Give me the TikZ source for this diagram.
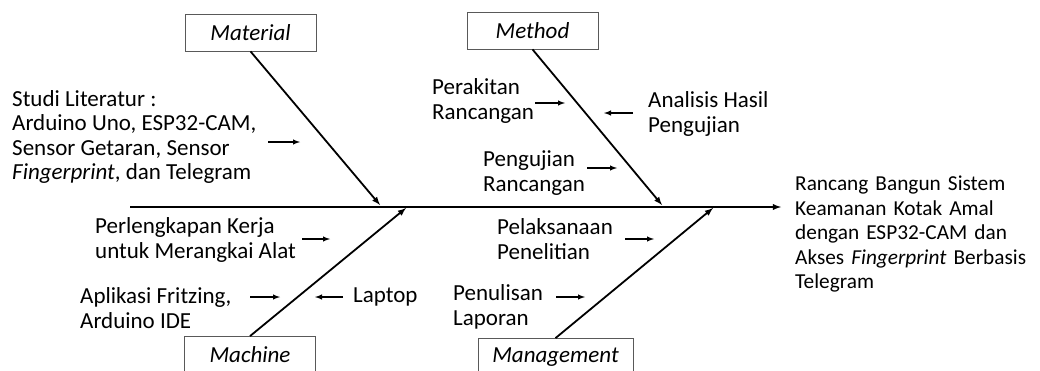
\documentclass[tikz,border=0pt]{standalone}
\usepackage{fontspec}
\setmainfont{Carlito}
\usetikzlibrary{positioning}

\newcommand{\fishfont}{\fontsize{23}{24.5}\selectfont}
\tikzset{
  catbox/.style={draw=black!65, line width=0.8pt, minimum width=131pt, minimum height=37pt, inner sep=0pt, font=\fishfont\itshape},
  cause/.style={align=left, inner sep=0pt, anchor=west, font=\fishfont},
  bone/.style={line width=1.8pt, -latex},
  tick/.style={line width=1.4pt, -latex},
}

\begin{document}
\begin{tikzpicture}[x=1pt,y=-1pt]
    \useasboundingbox (0,0) rectangle (1040,370);
    % spine
    \coordinate (tail) at (130,207);
    \coordinate (head) at (781,207);
    \draw[bone] (tail) -- (head);
    \node[cause, text width=242pt, font=\fontsize{21.3}{24.5}\selectfont] (effect) at (795,234) {%
      \makebox[242pt][s]{Rancang Bangun Sistem}\\
      \makebox[242pt][s]{Keamanan Kotak Amal}\\
      \makebox[242pt][s]{dengan ESP32-CAM dan}\\
      \makebox[242pt][s]{Akses \textit{Fingerprint} Berbasis}\\
      Telegram};

    % categories
    \node[catbox] (mat)  at (250.5,32.5) {Material};
    \node[catbox] (meth) at (532.5,30.5) {Method};
    \node[catbox] (mach) at (250,355) {Machine};
    \node[catbox, minimum width=155pt] (mgmt) at (555.5,357) {Management};
    \coordinate (matj)  at (380,205);
    \coordinate (methj) at (662,205);
    \coordinate (machj) at (406,208);
    \coordinate (mgmtj) at (713,208);
    \draw[bone] (mat.south) -- (matj);
    \draw[bone] (meth.south) -- (methj);
    \draw[bone] (mach.north) -- (machj);
    \draw[bone] (mgmt.north) -- (mgmtj);

    % causes
    \node[cause] (studi) at (12,137) {Studi Literatur :\\Arduino Uno, ESP32-CAM,\\Sensor Getaran, Sensor\\\textit{Fingerprint}, dan Telegram};
    \node[cause] (rakit) at (432,101) {Perakitan\\Rancangan};
    \node[cause] (analisis) at (648,114) {Analisis Hasil\\Pengujian};
    \node[cause] (uji) at (483,173) {Pengujian\\Rancangan};
    \node[cause] (lengkap) at (95,240) {Perlengkapan Kerja\\untuk Merangkai Alat};
    \node[cause] (apk) at (80,308) {Aplikasi Fritzing,\\Arduino IDE};
    \node[cause] (laptop) at (353,297) {Laptop};
    \node[cause] (laksana) at (497,239) {Pelaksanaan\\Penelitian};
    \node[cause] (tulis) at (453,307) {Penulisan\\Laporan};

    \coordinate (studit) at (300,142);
    \coordinate (rakitt) at (565,103);
    \coordinate (analisist) at (604,113);
    \coordinate (ujit) at (617,168);
    \coordinate (lengkapt) at (330,239);
    \coordinate (apkt) at (280,297);
    \coordinate (laptopt) at (315,297);
    \coordinate (laksanat) at (654,239);
    \coordinate (tulist) at (585,297);
    \draw[tick] (studit) ++(-32,0) -- (studit);
    \draw[tick] (rakitt) ++(-30,0) -- (rakitt);
    \draw[tick] (analisist) ++(29,0) -- (analisist);
    \draw[tick] (ujit) ++(-30,0) -- (ujit);
    \draw[tick] (lengkapt) ++(-28,0) -- (lengkapt);
    \draw[tick] (apkt) ++(-30,0) -- (apkt);
    \draw[tick] (laptopt) ++(28,0) -- (laptopt);
    \draw[tick] (laksanat) ++(-29,0) -- (laksanat);
    \draw[tick] (tulist) ++(-29,0) -- (tulist);
\end{tikzpicture}
\end{document}
